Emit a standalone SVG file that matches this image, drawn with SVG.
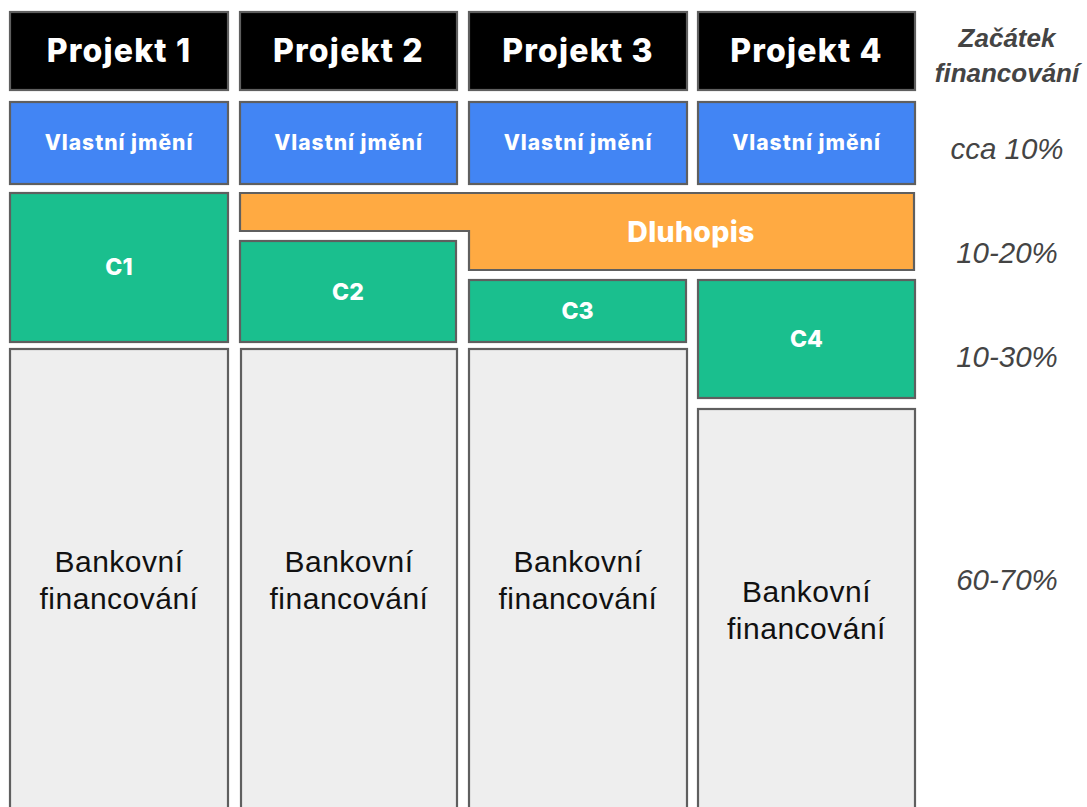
<svg xmlns="http://www.w3.org/2000/svg" width="1087" height="807" viewBox="0 0 1087 807">
<style>
.box{stroke:#5f5f5f;stroke-width:2.2}
.hdr{fill:#000}
.vl{fill:#4285f4}
.c{fill:#1abf8e}
.dl{fill:#ffaa42}
.bk{fill:#eeeeee}
.th{font-family:"Inter","Liberation Sans",sans-serif;font-weight:800;fill:#fff;text-anchor:middle}
.t1{font-size:32px;letter-spacing:1.2px}
.t2{font-size:21px;letter-spacing:1px}
.t3{font-size:23px}
.t4{font-size:28.5px;letter-spacing:0.3px}
.tb{font-family:"Liberation Sans",Arial,sans-serif;font-size:30px;fill:#111;text-anchor:middle;letter-spacing:0.5px}
.tr{font-family:"Liberation Sans",Arial,sans-serif;font-style:italic;fill:#444;text-anchor:middle;font-size:29.5px}
.trb{font-family:"Liberation Sans",Arial,sans-serif;font-style:italic;font-weight:bold;fill:#444;text-anchor:middle;font-size:26px}
</style>
<rect width="1087" height="807" fill="#fff"/>
<g id="projekt1">
<rect class="box hdr" x="10" y="12" width="218" height="78"/>
<text class="th t1" x="119" y="62">Projekt 1</text>
</g>
<g id="projekt2">
<rect class="box hdr" x="240" y="12" width="217" height="78"/>
<text class="th t1" x="348.5" y="62">Projekt 2</text>
</g>
<g id="projekt3">
<rect class="box hdr" x="469" y="12" width="218" height="78"/>
<text class="th t1" x="578" y="62">Projekt 3</text>
</g>
<g id="projekt4">
<rect class="box hdr" x="698" y="12" width="217" height="78"/>
<text class="th t1" x="806.5" y="62">Projekt 4</text>
</g>
<g id="vlastni1">
<rect class="box vl" x="10" y="102" width="218" height="82"/>
<text class="th t2" x="119" y="150">Vlastní jmění</text>
</g>
<g id="vlastni2">
<rect class="box vl" x="240" y="102" width="217" height="82"/>
<text class="th t2" x="348.5" y="150">Vlastní jmění</text>
</g>
<g id="vlastni3">
<rect class="box vl" x="469" y="102" width="218" height="82"/>
<text class="th t2" x="578" y="150">Vlastní jmění</text>
</g>
<g id="vlastni4">
<rect class="box vl" x="698" y="102" width="217" height="82"/>
<text class="th t2" x="806.5" y="150">Vlastní jmění</text>
</g>
<g id="dluhopis">
<path class="box dl" d="M240,193 H914 V270 H469 V231 H240 Z"/>
<text class="th t4" x="691" y="242">Dluhopis</text>
</g>
<g id="c1">
<rect class="box c" x="10" y="193" width="218" height="149"/>
<text class="th t3" x="119" y="275">C1</text>
</g>
<g id="c2">
<rect class="box c" x="240" y="241" width="216" height="101"/>
<text class="th t3" x="348" y="300">C2</text>
</g>
<g id="c3">
<rect class="box c" x="469" y="280" width="217" height="62"/>
<text class="th t3" x="577.5" y="318.5">C3</text>
</g>
<g id="c4">
<rect class="box c" x="698" y="280" width="217" height="118"/>
<text class="th t3" x="806.5" y="347">C4</text>
</g>
<g id="bank1">
<rect class="box bk" x="10" y="349" width="218" height="470"/>
<text class="tb" x="119" y="572">Bankovní</text>
<text class="tb" x="119" y="609">financování</text>
</g>
<g id="bank2">
<rect class="box bk" x="241" y="349" width="216" height="470"/>
<text class="tb" x="349" y="572">Bankovní</text>
<text class="tb" x="349" y="609">financování</text>
</g>
<g id="bank3">
<rect class="box bk" x="469" y="349" width="218" height="470"/>
<text class="tb" x="578" y="572">Bankovní</text>
<text class="tb" x="578" y="609">financování</text>
</g>
<g id="bank4">
<rect class="box bk" x="698" y="409" width="217" height="410"/>
<text class="tb" x="806.5" y="602">Bankovní</text>
<text class="tb" x="806.5" y="639">financování</text>
</g>
<g id="labels">
<text class="trb" x="1007" y="47">Začátek</text>
<text class="trb" x="1007" y="82">financování</text>
<text class="tr" x="1007" y="159">cca 10%</text>
<text class="tr" x="1007" y="263">10-20%</text>
<text class="tr" x="1007" y="367">10-30%</text>
<text class="tr" x="1007" y="590">60-70%</text>
</g>
<g id="connectors"></g>
</svg>
